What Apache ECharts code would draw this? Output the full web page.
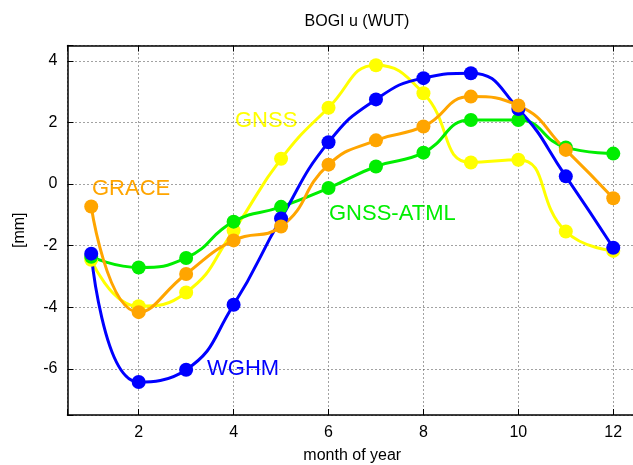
<!DOCTYPE html>
<html>
<head>
<meta charset="utf-8">
<script src="https://cdn.jsdelivr.net/npm/echarts@6/dist/echarts.min.js"></script>
<style>html,body{margin:0;padding:0;background:#fff}#c{width:633px;height:465px}</style>
</head>
<body>
<div id="c"></div>
<script>
const months = [1,2,3,4,5,6,7,8,9,10,11,12];
const gnss     = [-2.46,-3.97,-3.52,-1.51,0.82,2.48,3.86,2.95,0.70,0.79,-1.54,-2.17];
const gnssAtml = [-2.36,-2.71,-2.40,-1.22,-0.74,-0.13,0.57,1.02,2.08,2.08,1.19,0.99];
const wghm     = [-2.26,-6.43,-6.03,-3.92,-1.12,1.36,2.75,3.44,3.60,2.44,0.25,-2.07];
const grace    = [-0.73,-4.16,-2.92,-1.83,-1.38,0.63,1.42,1.87,2.84,2.55,1.11,-0.46];
const xTicks = [2,4,6,8,10,12];
const yTicks = [-6,-4,-2,0,2,4];

const FONT = '"Liberation Sans", Arial, Helvetica, sans-serif';
function pairs(v){ return months.map((m,i)=>[m,v[i]]); }
function mk(name, vals, color){
  return {name, type:'line', data:pairs(vals), smooth:0.5, symbol:'circle', symbolSize:14,
    lineStyle:{color, width:3}, itemStyle:{color}, z:2};
}
const chart = echarts.init(document.getElementById('c'), null, {renderer:'canvas'});
const gridLine = {show:true, lineStyle:{color:'#444', type:[1,3], width:1}};
chart.setOption({
  animation:false,
  title:{text:'BOGI u (WUT)', left:352, top:9, textAlign:'center',
    textStyle:{fontFamily:FONT, fontSize:16, fontWeight:'normal', color:'#000'}},
  grid:{left:67.5, width:569.5, top:45.5, height:369.5, containLabel:false, outerBoundsMode:'none'},
  xAxis:[{type:'value', min:0.5, max:12.5, splitNumber:6,
    name:'month of year', nameLocation:'middle', nameGap:33,
    nameTextStyle:{fontFamily:FONT, fontSize:16, color:'#000'},
    axisLine:{onZero:false, lineStyle:{color:'#000', width:1.5}},
    axisTick:{inside:true, length:6, lineStyle:{color:'#000'}},
    axisLabel:{fontFamily:FONT, fontSize:16, color:'#000', margin:10,
      formatter:v=> xTicks.indexOf(v)>=0 ? String(v) : ''},
    splitLine:gridLine},
   {type:'value', position:'top', min:0.5, max:12.5, splitNumber:6,
    axisLine:{show:true, onZero:false, lineStyle:{color:'#000', width:1.5}},
    axisTick:{inside:true, length:6, lineStyle:{color:'#000'}},
    axisLabel:{show:false}, splitLine:{show:false}}],
  yAxis:{type:'value', min:-7.5, max:4.5, splitNumber:6,
    name:'[mm]', nameLocation:'middle', nameGap:40,
    nameTextStyle:{fontFamily:FONT, fontSize:16, color:'#000'},
    axisLine:{show:true, onZero:false, lineStyle:{color:'#000', width:1.5}},
    axisTick:{show:true, inside:true, length:6, lineStyle:{color:'#000'}},
    axisLabel:{fontFamily:FONT, fontSize:16, color:'#000', margin:10,
      formatter:v=> yTicks.indexOf(v)>=0 ? String(v) : ''},
    splitLine:gridLine},
  series:[
    mk('GNSS', gnss, '#ffff00'),
    mk('GNSS-ATML', gnssAtml, '#00ee00'),
    mk('WGHM', wghm, '#0000ff'),
    mk('GRACE', grace, '#ffa500')
  ],
  graphic:[
    {type:'text', left:235, top:110, style:{text:'GNSS', fill:'#ffff00', font:'22px '+FONT}},
    {type:'text', left:92, top:178, style:{text:'GRACE', fill:'#ffa500', font:'22px '+FONT}},
    {type:'text', left:329, top:203, style:{text:'GNSS-ATML', fill:'#00ee00', font:'22px '+FONT}},
    {type:'text', left:207, top:358, style:{text:'WGHM', fill:'#0000ff', font:'22px '+FONT}}
  ]
});
</script>
</body>
</html>
